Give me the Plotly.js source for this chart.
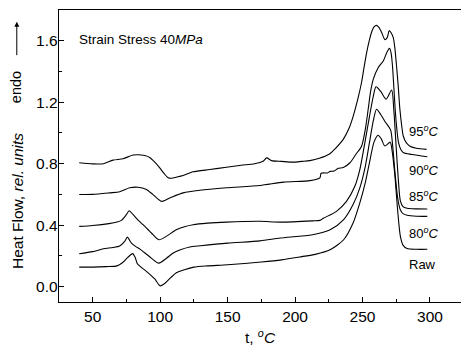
<!DOCTYPE html>
<html>
<head>
<meta charset="utf-8">
<script src="https://cdn.plot.ly/plotly-3.0.1.min.js"></script>
<style>html,body{margin:0;padding:0;background:#fff;overflow:hidden;}</style>
</head>
<body>
<div id="chart" style="width:461px;height:353px;"></div>
<script>
// Data
const tRaw = [40, 50, 60, 68, 72, 76, 79.5, 81.5, 83, 86, 90, 96, 100, 104, 108, 112, 118, 125, 135, 150, 175, 190, 205, 215, 226, 236, 243, 248, 252, 255, 258.5, 261.5, 264, 266.5, 270.5, 272, 274, 276, 278, 280, 283, 290, 298];
const vRaw = [0.127, 0.127, 0.13, 0.135, 0.155, 0.19, 0.215, 0.19, 0.15, 0.125, 0.098, 0.05, 0.005, 0.025, 0.06, 0.09, 0.11, 0.127, 0.135, 0.142, 0.16, 0.174, 0.195, 0.21, 0.24, 0.305, 0.414, 0.545, 0.675, 0.8, 0.94, 0.985, 0.96, 0.915, 0.94, 0.88, 0.72, 0.5, 0.33, 0.27, 0.248, 0.243, 0.243];

const t80 = [40, 50, 58, 65, 70, 73.7, 75.7, 78.7, 82, 85, 92, 99, 104.7, 110, 115, 122, 130, 150, 174, 189, 213, 226, 236, 243, 248, 252, 255, 258, 260.4, 263.5, 267, 270.8, 272.5, 274, 276, 278, 280, 283, 290, 298];
const v80 = [0.214, 0.228, 0.246, 0.255, 0.265, 0.294, 0.322, 0.283, 0.26, 0.244, 0.196, 0.153, 0.185, 0.22, 0.24, 0.258, 0.266, 0.283, 0.298, 0.316, 0.338, 0.37, 0.436, 0.534, 0.643, 0.78, 0.93, 1.08, 1.154, 1.12, 1.07, 1.02, 0.9, 0.75, 0.58, 0.5, 0.475, 0.465, 0.458, 0.457];

const t85 = [40, 50, 62, 68, 71.3, 74.9, 77, 80, 84, 87.3, 93.5, 99, 104.5, 111.9, 118, 124.4, 135, 149, 174, 189, 213, 218.4, 221, 230.7, 238.1, 244.3, 248, 252, 255, 258, 260, 263.5, 267.5, 271.6, 273.2, 275, 276.5, 278, 280, 283, 290, 298];
const v85 = [0.392, 0.398, 0.41, 0.42, 0.431, 0.468, 0.494, 0.468, 0.43, 0.403, 0.349, 0.305, 0.327, 0.37, 0.39, 0.403, 0.413, 0.42, 0.425, 0.42, 0.428, 0.431, 0.445, 0.49, 0.555, 0.653, 0.762, 0.95, 1.1, 1.24, 1.30, 1.27, 1.22, 1.28, 1.15, 0.9, 0.7, 0.56, 0.52, 0.51, 0.506, 0.505];

const t90 = [40, 50, 62.6, 70, 77.4, 83.6, 89.8, 94.7, 101, 107.1, 117, 129.4, 149.2, 174, 191.5, 211, 218.4, 219.3, 224, 226, 229, 232, 235.7, 240.7, 245, 249.3, 252, 254.2, 256, 258, 261.8, 265.5, 268, 270, 271.2, 272.2, 273.2, 274.2, 275.5, 276.7, 278.5, 280.4, 286.6, 298];
const v90 = [0.599, 0.60, 0.61, 0.617, 0.643, 0.647, 0.632, 0.599, 0.555, 0.577, 0.61, 0.627, 0.643, 0.658, 0.68, 0.69, 0.708, 0.738, 0.74, 0.75, 0.752, 0.77, 0.775, 0.806, 0.86, 0.914, 1.02, 1.154, 1.27, 1.35, 1.427, 1.47, 1.524, 1.55, 1.52, 1.437, 1.3, 1.154, 1.02, 0.937, 0.89, 0.871, 0.86, 0.845];

const t95 = [40, 50, 58, 65, 72.5, 80, 88.6, 92.5, 96, 99.7, 103, 105.9, 108.4, 112, 117, 124.4, 136.8, 149.2, 160, 170, 176.3, 178.9, 182.6, 190, 198.6, 205, 211, 218, 225.8, 230, 235.7, 240, 243.1, 246.5, 249.3, 251, 253, 255, 256.7, 258.5, 260.4, 262.3, 264.1, 266.6, 268.3, 269.8, 271.3, 272.8, 274, 275.2, 276.5, 277.7, 279, 280.2, 282.5, 285.2, 290, 297.5];
const v95 = [0.806, 0.799, 0.80, 0.823, 0.832, 0.856, 0.853, 0.839, 0.81, 0.773, 0.735, 0.708, 0.705, 0.712, 0.723, 0.747, 0.762, 0.777, 0.79, 0.80, 0.816, 0.838, 0.82, 0.815, 0.81, 0.815, 0.82, 0.835, 0.865, 0.9, 0.958, 1.03, 1.11, 1.22, 1.33, 1.42, 1.52, 1.6, 1.655, 1.69, 1.70, 1.685, 1.655, 1.607, 1.62, 1.666, 1.65, 1.62, 1.55, 1.437, 1.3, 1.154, 1.05, 0.98, 0.935, 0.914, 0.9, 0.893];

const curveNames = ['Raw', '80°C', '85°C', '90°C', '95°C'];
const labelTexts = ['Raw', '80<sup><i>o</i></sup><i>C</i>', '85<sup><i>o</i></sup><i>C</i>', '90<sup><i>o</i></sup><i>C</i>', '95<sup><i>o</i></sup><i>C</i>'];
const labelT = [283, 283, 283, 283, 283];
const labelV = [0.142, 0.349, 0.592, 0.762, 1.012];

const xTicks = [50, 100, 150, 200, 250, 300];
const yTicks = [0.0, 0.4, 0.8, 1.2, 1.6];

const series = [[tRaw, vRaw], [t80, v80], [t85, v85], [t90, v90], [t95, v95]];
const font = 'Liberation Sans, Arial, sans-serif';

const traces = series.map((s, i) => ({
  x: s[0], y: s[1], type: 'scatter', mode: 'lines', name: curveNames[i],
  line: {color: '#000', width: 1.1, shape: 'spline', smoothing: 0.7},
  hoverinfo: 'skip'
}));

const annotations = labelTexts.map((txt, i) => ({
  x: labelT[i], y: labelV[i], xref: 'x', yref: 'y', text: txt, showarrow: false,
  xanchor: 'left', yanchor: 'middle', font: {family: font, size: 13, color: '#000'}
}));
annotations.push(
  {xref: 'paper', yref: 'paper', x: 0.045, y: 0.9, text: 'Strain Stress 40<i>MPa</i>', showarrow: false,
   xanchor: 'left', yanchor: 'middle', font: {family: font, size: 13.5, color: '#000'}},
  {xref: 'paper', yref: 'paper', x: -0.105, y: 0.345, text: 'Heat Flow, <i>rel. units</i>', showarrow: false,
   textangle: -90, xanchor: 'center', yanchor: 'middle', font: {family: font, size: 15.5, color: '#000'}},
  {xref: 'paper', yref: 'paper', x: -0.105, y: 0.735, text: 'endo', showarrow: false,
   textangle: -90, xanchor: 'center', yanchor: 'middle', font: {family: font, size: 14.5, color: '#000'}},
  {xref: 'paper', yref: 'paper', x: -0.105, y: 0.96, text: '', showarrow: true,
   ax: 0, ay: 35, arrowhead: 2, arrowsize: 1, arrowwidth: 1, arrowcolor: '#000'}
);

const layout = {
  width: 461, height: 353,
  margin: {l: 59, r: 0, t: 10, b: 51},
  paper_bgcolor: '#fff', plot_bgcolor: '#fff',
  showlegend: false,
  font: {family: font, size: 15.5, color: '#000'},
  xaxis: {
    range: [25, 323], tickvals: xTicks, ticktext: xTicks.map(String),
    ticks: 'inside', ticklen: 5, tickwidth: 1, tickcolor: '#000',
    minor: {dtick: 25, tick0: 0, ticks: 'inside', ticklen: 3, tickcolor: '#000'},
    showline: true, linecolor: '#000', linewidth: 1.3, mirror: true,
    showgrid: false, zeroline: false,
    title: {text: 't, <sup><i>o</i></sup><i>C</i>', font: {family: font, size: 15.5}, standoff: 8}
  },
  yaxis: {
    range: [-0.1, 1.8], tickvals: yTicks, ticktext: yTicks.map(v => v.toFixed(1)),
    ticks: 'inside', ticklen: 5, tickwidth: 1, tickcolor: '#000',
    minor: {dtick: 0.2, tick0: 0, ticks: 'inside', ticklen: 3, tickcolor: '#000'},
    showline: true, linecolor: '#000', linewidth: 1.3, mirror: false,
    showgrid: false, zeroline: false, ticklabelstandoff: -3
  },
  annotations: annotations
};

Plotly.newPlot('chart', traces, layout, {staticPlot: true, displayModeBar: false});
</script>
</body>
</html>
